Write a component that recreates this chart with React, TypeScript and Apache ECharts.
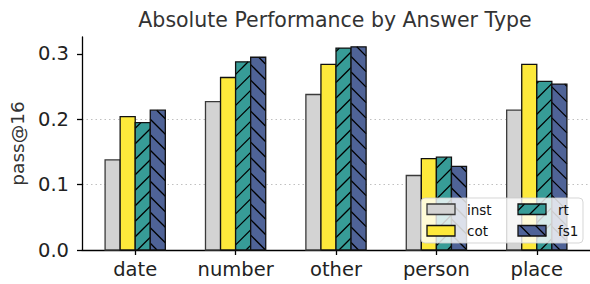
import React, { useEffect, useRef } from "react";
import * as echarts from "echarts";

// ---- data ----
const categories = ["date", "number", "other", "person", "place"];
const seriesNames = ["inst", "cot", "rt", "fs1"];
const inst = [0.138, 0.227, 0.238, 0.114, 0.214];
const cot = [0.204, 0.264, 0.284, 0.14, 0.284];
const rt = [0.195, 0.288, 0.309, 0.142, 0.258];
const fs1 = [0.214, 0.295, 0.311, 0.128, 0.254];
const yTicks = [0, 0.1, 0.2, 0.3];
const xTicks = [0, 1, 2, 3, 4];

// ---- style ----
const FONT = "DejaVu Sans";
const BAR_W = 0.15;
const HATCH_D = 15.5;
const styles = [
  { fill: "#d3d3d3", stroke: "#3a3a3a", hatch: "" },
  { fill: "#fde93b", stroke: "#111111", hatch: "" },
  { fill: "#379c97", stroke: "#111111", hatch: "/" },
  { fill: "#4f6397", stroke: "#111111", hatch: "\\" },
];

function hatchSegments(x0: number, y0: number, x1: number, y1: number, dir: string, d: number) {
  const segs: number[][] = [];
  if (!dir) return segs;
  if (dir === "/") {
    const kStart = Math.ceil((x0 + y0) / d);
    const kEnd = Math.floor((x1 + y1) / d);
    for (let k = kStart; k <= kEnd; k++) {
      const c = k * d;
      const lo = Math.max(x0, c - y1);
      const hi = Math.min(x1, c - y0);
      if (hi - lo > 0.3) segs.push([lo, c - lo, hi, c - hi]);
    }
  } else {
    const kStart = Math.ceil((x0 - y1) / d);
    const kEnd = Math.floor((x1 - y0) / d);
    for (let k = kStart; k <= kEnd; k++) {
      const c = k * d;
      const lo = Math.max(x0, c + y0);
      const hi = Math.min(x1, c + y1);
      if (hi - lo > 0.3) segs.push([lo, lo - c, hi, hi - c]);
    }
  }
  return segs;
}

function patchChildren(x: number, y: number, w: number, h: number, st: any, z?: number) {
  const zz = z === undefined ? {} : { z };
  const children: any[] = [
    { type: "rect", ...zz, shape: { x, y, width: w, height: h }, style: { fill: st.fill, stroke: null } },
  ];
  hatchSegments(x, y, x + w, y + h, st.hatch, HATCH_D).forEach((s) => {
    children.push({
      type: "line",
      ...zz,
      shape: { x1: s[0], y1: s[1], x2: s[2], y2: s[3] },
      style: { stroke: "#000", lineWidth: 1.3 },
    });
  });
  children.push({
    type: "rect",
    ...zz,
    shape: { x, y, width: w, height: h },
    style: { fill: null, stroke: st.stroke, lineWidth: 1.3 },
  });
  return children;
}

export default function App() {
  const ref = useRef<HTMLDivElement>(null);
  useEffect(() => {
    if (!ref.current) return;
    const chart = echarts.init(ref.current, null, { renderer: "svg" });
    const allSeries = [inst, cot, rt, fs1];

    const series = allSeries.map((vals, si) => ({
      type: "custom",
      name: seriesNames[si],
      data: vals.map((v, i) => [i, v]),
      encode: { x: 0, y: 1 },
      renderItem: (params: any, api: any) => {
        const cat = api.value(0);
        const v = api.value(1);
        const center = cat + (si - 1.5) * BAR_W;
        const p0 = api.coord([center - BAR_W / 2, v]);
        const p1 = api.coord([center + BAR_W / 2, 0]);
        return {
          type: "group",
          children: patchChildren(p0[0], p0[1], p1[0] - p0[0], p1[1] - p0[1], styles[si]),
        };
      },
    }));

    // legend built with graphic
    const lx = 421, ly = 198;
    const legendChildren: any[] = [
      {
        type: "rect",
        z: 100,
        shape: { x: lx, y: ly, width: 162, height: 45, r: 4 },
        style: { fill: "rgba(255,255,255,0.8)", stroke: "rgba(204,204,204,0.8)", lineWidth: 1 },
      },
    ];
    const pos = [
      [427, 204],
      [427, 225.5],
      [518, 204],
      [518, 225.5],
    ];
    seriesNames.forEach((n, i) => {
      const [px, py] = pos[i];
      legendChildren.push(...patchChildren(px, py, 28, 10.5, styles[i], 101));
      legendChildren.push({
        type: "text",
        z: 102,
        x: px + 40,
        y: py + 5.5,
        style: { text: n, fill: "#111", font: `13.5px "${FONT}"`, verticalAlign: "middle" },
      });
    });

    chart.setOption({
      animation: false,
      backgroundColor: "#ffffff",
      textStyle: { fontFamily: FONT },
      title: {
        text: "Absolute Performance by Answer Type",
        left: 330,
        textAlign: "center",
        top: 4,
        textStyle: { fontFamily: FONT, fontSize: 20.5, fontWeight: "normal", color: "#333" },
      },
      grid: { left: 82, right: 0, top: 37, bottom: 34 },
      xAxis: {
        type: "value",
        min: -0.53,
        max: 4.53,
        axisLine: { show: true, onZero: false, lineStyle: { color: "#000", width: 1.3 } },
        axisTick: { show: true, customValues: xTicks, length: 5, lineStyle: { color: "#000", width: 1.3 } },
        axisLabel: {
          customValues: xTicks,
          formatter: (v: number) => categories[Math.round(v)] ?? "",
          fontFamily: FONT,
          fontSize: 19.5,
          color: "#222",
          margin: 9,
        },
        splitLine: { show: false },
      },
      yAxis: {
        type: "value",
        min: 0,
        max: 0.326,
        interval: 0.1,
        name: "pass@16",
        nameLocation: "middle",
        nameGap: 52,
        nameTextStyle: { fontFamily: FONT, fontSize: 18.5, color: "#333" },
        axisLine: { show: true, onZero: false, lineStyle: { color: "#000", width: 1.3 } },
        axisTick: { show: true, customValues: yTicks, length: 5, lineStyle: { color: "#000", width: 1.3 } },
        axisLabel: {
          customValues: yTicks,
          formatter: (v: number) => v.toFixed(1),
          fontFamily: FONT,
          fontSize: 19.5,
          color: "#222",
          margin: 13,
        },
        splitLine: {
          show: true,
          showMinLine: false,
          showMaxLine: false,
          lineStyle: { color: "#c0c0c0", width: 1, type: [1.5, 3] },
        },
      },
      graphic: legendChildren,
      series,
    });
    return () => chart.dispose();
  }, []);
  return (
    <div
      ref={ref}
      style={{ position: "fixed", left: 0, top: 0, width: 590, height: 284 }}
    />
  );
}
